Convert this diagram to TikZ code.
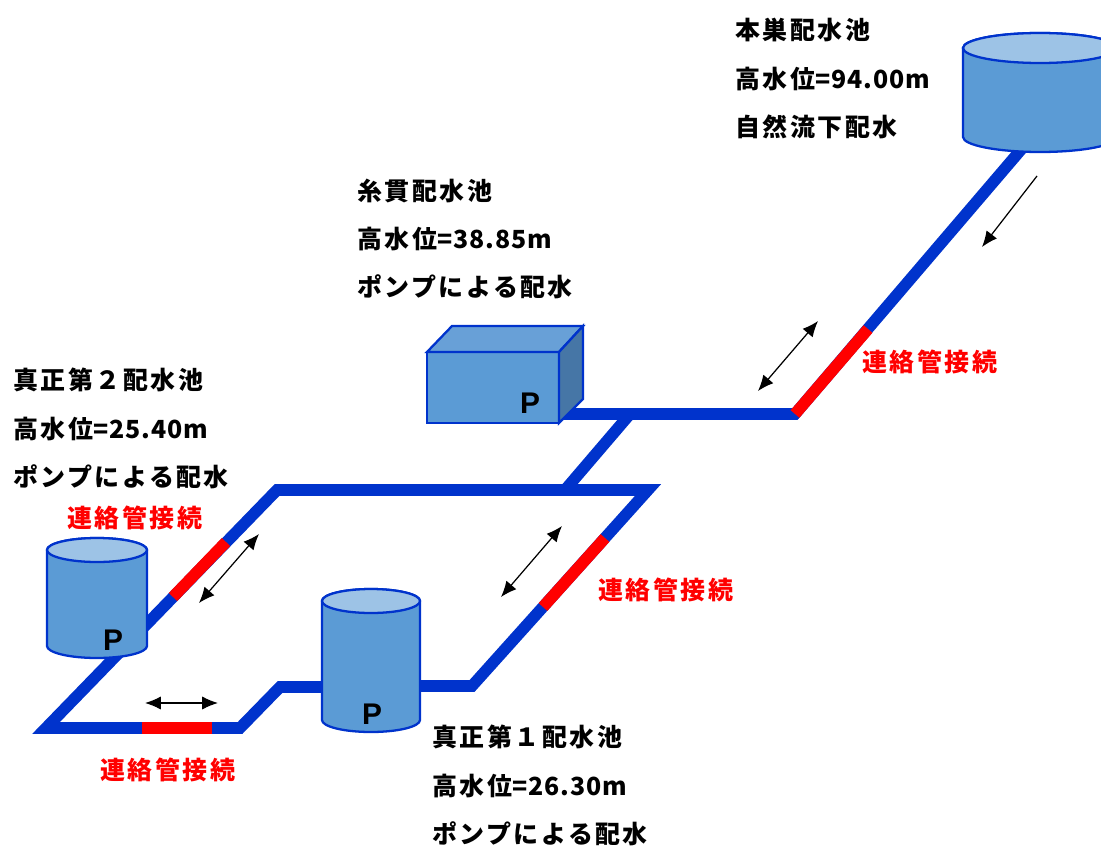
\documentclass[tikz,border=0pt]{standalone}
\usepackage{fontspec}
\newfontfamily\jpfont{Noto Sans CJK JP}[LetterSpace=10]
\newfontfamily\numfont{Noto Sans CJK JP}[LetterSpace=4]
\newfontfamily\pfont{Liberation Sans}
\usetikzlibrary{arrows.meta}
\definecolor{pipeblue}{RGB}{0,51,204}
\definecolor{linkred}{RGB}{255,0,0}
\definecolor{tankbody}{RGB}{91,155,213}
\definecolor{tanktop}{RGB}{157,195,230}
\definecolor{boxtop}{RGB}{104,160,215}
\definecolor{boxside}{RGB}{70,118,166}
\tikzset{
  pipe/.style={line width=6.6pt,draw=pipeblue,line join=miter,miter limit=4},
  linkpipe/.style={line width=6.6pt,draw=linkred},
  tankline/.style={draw=pipeblue,line width=1.3pt},
  flowarrow/.style={-{Latex[length=9pt,width=7.5pt]},line width=0.7pt},
  twoway/.style={{Latex[length=9pt,width=7.5pt]}-{Latex[length=9pt,width=7.5pt]},line width=0.7pt},
  info/.style={font=\jpfont\bfseries\fontsize{14.2}{27.5}\selectfont,align=left,
               inner sep=0pt,anchor=west},
  linklabel/.style={info,text=linkred},
  pump/.style={font=\pfont\bfseries\fontsize{17}{17}\selectfont,inner sep=0pt}
}
% cylinder tank: centre x, top y, bottom y, x radius, y radius
\newcommand\watertank[5]{%
  \path[tankline,fill=tankbody] (#1-#4,#2) -- (#1-#4,#3)
    arc[start angle=180,end angle=360,x radius=#4,y radius=#5]
    -- (#1+#4,#2) arc[start angle=0,end angle=180,x radius=#4,y radius=#5] -- cycle;
  \path[tankline,fill=tanktop] (#1,#2) ellipse[x radius=#4,y radius=#5];
}
% water level line
\newcommand\level[1]{高水位{\numfont\bfseries =#1m}}

\begin{document}
\begin{tikzpicture}[x=0.02cm,y=0.02cm]
  \useasboundingbox (0,0) rectangle (1101,-845);
  \clip (0,0) rectangle (1101,-845);

  % pipe corners
  \coordinate (honsu out) at (1025,-145);
  \coordinate (hbend) at (795,-414);
  \coordinate (itonuki out) at (560,-414);
  \coordinate (tee top) at (630,-414);
  \coordinate (tee bottom) at (565,-490);
  \coordinate (loop ne) at (648,-490);
  \coordinate (loop nw) at (277,-490);
  \coordinate (loop sw) at (46,-728);
  \coordinate (loop s) at (240,-728);
  \coordinate (loop step) at (280,-687);
  \coordinate (s1 west) at (330,-687);
  \coordinate (s1 east) at (412,-686);
  \coordinate (loop se) at (472,-686);

  % connection sections
  \coordinate (link1 a) at (868,-329);
  \coordinate (link2 a) at (226,-542);
  \coordinate (link2 b) at (173,-597);
  \coordinate (link3 a) at (142,-728);
  \coordinate (link3 b) at (212,-728);
  \coordinate (link4 a) at (543,-607);
  \coordinate (link4 b) at (605,-538);

  \draw[pipe] (honsu out) -- (hbend) -- (itonuki out);
  \draw[pipe] (tee top) -- (tee bottom);
  \draw[pipe] (s1 east) -- (loop se) -- (loop ne) -- (loop nw) -- (loop sw)
    -- (loop s) -- (loop step) -- (s1 west);

  \draw[linkpipe] (link1 a) -- (hbend);
  \draw[linkpipe] (link2 a) -- (link2 b);
  \draw[linkpipe] (link3 a) -- (link3 b);
  \draw[linkpipe] (link4 a) -- (link4 b);

  % tanks
  \watertank{1040}{-48}{-137}{77}{15}
  \watertank{97}{-550}{-646}{50}{12}
  \watertank{371}{-601}{-720}{49}{12}

  % box tank
  \path[tankline,fill=tankbody] (427,-352) rectangle (559,-423);
  \path[tankline,fill=boxtop] (427,-352) -- (452,-326) -- (583,-326) -- (559,-352) -- cycle;
  \path[tankline,fill=boxside] (559,-352) -- (583,-326) -- (583,-399) -- (559,-423) -- cycle;

  \node[pump] (p itonuki) at (530,-403) {P};
  \node[pump] (p shinsho2) at (113,-640) {P};
  \node[pump] (p shinsho1) at (372,-714) {P};

  % flow arrows
  \coordinate (down a) at (1037,-176);
  \coordinate (down b) at (982,-247);
  \coordinate (arr1 a) at (818,-321);
  \coordinate (arr1 b) at (758,-391);
  \coordinate (arr2 a) at (259,-534);
  \coordinate (arr2 b) at (199,-603);
  \coordinate (arr3 a) at (145,-703);
  \coordinate (arr3 b) at (218,-703);
  \coordinate (arr4 a) at (562,-526);
  \coordinate (arr4 b) at (501,-597);
  \draw[flowarrow] (down a) -- (down b);
  \draw[twoway] (arr1 a) -- (arr1 b);
  \draw[twoway] (arr2 a) -- (arr2 b);
  \draw[twoway] (arr3 a) -- (arr3 b);
  \draw[twoway] (arr4 a) -- (arr4 b);

  % labels
  \node[info] (honsu) at (735,-78.5) {本巣配水池\\\level{94.00}\\自然流下配水};
  \node[info] (itonuki) at (357,-239) {糸貫配水池\\\level{38.85}\\ポンプによる配水};
  \node[info] (shinsho2) at (13,-428.5) {真正第２配水池\\\level{25.40}\\ポンプによる配水};
  \node[info] (shinsho1) at (432,-785.5) {真正第１配水池\\\level{26.30}\\ポンプによる配水};

  \node[linklabel] (link1) at (862,-362) {連絡管接続};
  \node[linklabel] (link2) at (67,-518) {連絡管接続};
  \node[linklabel] (link4) at (598,-590) {連絡管接続};
  \node[linklabel] (link3) at (100,-770) {連絡管接続};
\end{tikzpicture}
\end{document}
